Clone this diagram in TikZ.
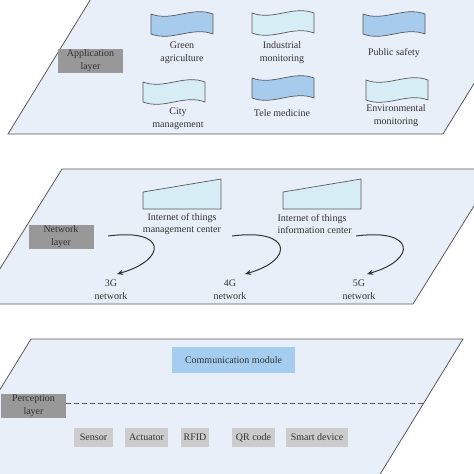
\documentclass[tikz,border=0pt]{standalone}
\usepackage{fontspec}
\setmainfont{Liberation Serif}
\usetikzlibrary{positioning}
\usetikzlibrary{calc}
\usetikzlibrary{arrows.meta}
\definecolor{plane colour}{RGB}{233,239,249}
\definecolor{plane edge}{RGB}{90,90,90}
\definecolor{layer colour}{RGB}{152,152,152}
\definecolor{item colour}{RGB}{204,204,204}
\definecolor{deep flag}{RGB}{166,203,236}
\definecolor{pale flag}{RGB}{214,237,246}
\definecolor{module colour}{RGB}{164,205,240}
\definecolor{text colour}{RGB}{50,50,50}
\tikzset{
    % Arrow shape for the network hooks
    >={Stealth[length=6pt, width=5pt]},
%
    % The three layer planes
    plane/.style={draw=plane edge, fill=plane colour, line width=0.8pt},
    % Text everywhere
    every node/.style={align=center, text=text colour,
        font=\fontsize{10}{12.8}\selectfont},
%
    layer box/.style={
        rectangle, fill=layer colour, inner sep=0,
        minimum width=65, minimum height=24},
    item box/.style={
        rectangle, fill=item colour, inner sep=0, minimum height=19},
    module box/.style={
        rectangle, fill=module colour, inner sep=0,
        minimum width=123, minimum height=26},
    centre shape/.style={draw=plane edge, fill=pale flag, line width=0.7pt},
    hook/.style={draw=black!80, line width=1pt, ->},
    divider/.style={draw=plane edge, dashed, line width=0.9pt,
        dash pattern=on 5pt off 3pt},
%
    pics/flag/.style={
        code={
            \draw [draw=plane edge, fill=#1, line width=0.7pt]
                (0,0) .. controls (21,8) and (41,-8) .. (62,0)
                -- (62,20) .. controls (41,12) and (21,28) .. (0,20)
                -- cycle;}},
}

\begin{document}
\begin{tikzpicture}[x=1pt, y=-1pt]
    \useasboundingbox (0,0) rectangle (474,474);
    \clip (0,0) rectangle (474,474);

    % Application layer
    \path [plane] (92,-3) -- (527,-3) -- (443,134) -- (8,134) -- cycle;
    \node [layer box] (app layer) at (90.5,61) {Application\\layer};

    \pic at (151,14) {flag=deep flag};
    \pic at (252,13) {flag=pale flag};
    \pic at (363,14) {flag=deep flag};
    \pic at (143,82) {flag=pale flag};
    \pic at (252,78) {flag=deep flag};
    \pic at (366,80) {flag=pale flag};

    \node (agriculture) at (182,53) {Green\\agriculture};
    \node (industrial) at (282,53) {Industrial\\monitoring};
    \node (safety) at (394,53) {Public safety};
    \node (city) at (178,119) {City\\management};
    \node (medicine) at (282,113) {Tele medicine};
    \node (environment) at (396,116) {Environmental\\monitoring};

    % Network layer
    \path [plane] (62,169) -- (497,169) -- (413,304) -- (-22,304) -- cycle;
    \node [layer box] (net layer) at (61,236.5) {Network\\layer};

    \path [centre shape] (143,192) -- (221,179) -- (221,209) -- (143,209) -- cycle;
    \path [centre shape] (283,192) -- (361,179) -- (361,209) -- (283,209) -- cycle;
    \node (management) at (182,224) {Internet of things\\management center};
    \node [anchor=west, align=left] (information) at (274,224)
        {Internet of things\\information center};

    \node (3G) at (111,290) {3G\\network};
    \node (4G) at (230,290) {4G\\network};
    \node (5G) at (359,290) {5G\\network};

    \coordinate (3G from) at (108,236);
    \coordinate (3G to) at (117,274);
    \coordinate (4G from) at (232,236);
    \coordinate (4G to) at (245,274);
    \coordinate (5G from) at (356,236);
    \coordinate (5G to) at (367,274);
    \path [hook] (3G from) .. controls +(60,-8) and +(50,-14) .. (3G to);
    \path [hook] (4G from) .. controls +(60,-8) and +(50,-14) .. (4G to);
    \path [hook] (5G from) .. controls +(60,-8) and +(50,-14) .. (5G to);

    % Perception layer
    \path [plane] (31,339) -- (463,339) -- (379,476) -- (-53,476) -- cycle;
    \node [module box] (module) at (233.5,360) {Communication module};
    \node [layer box] (per layer) at (33.5,406) {Perception\\layer};
    \coordinate (divider end) at (423,403);
    \path [divider] (per layer.east |- divider end) -- (divider end);

    \node [item box, minimum width=39] (sensor) at (93.5,437.5) {Sensor};
    \node [item box, minimum width=43] (actuator) at (146.5,437.5) {Actuator};
    \node [item box, minimum width=28] (rfid) at (195,437.5) {RFID};
    \node [item box, minimum width=43] (qr code) at (253.5,437.5) {QR code};
    \node [item box, minimum width=62] (smart device) at (317,437.5) {Smart device};
\end{tikzpicture}
\end{document}
